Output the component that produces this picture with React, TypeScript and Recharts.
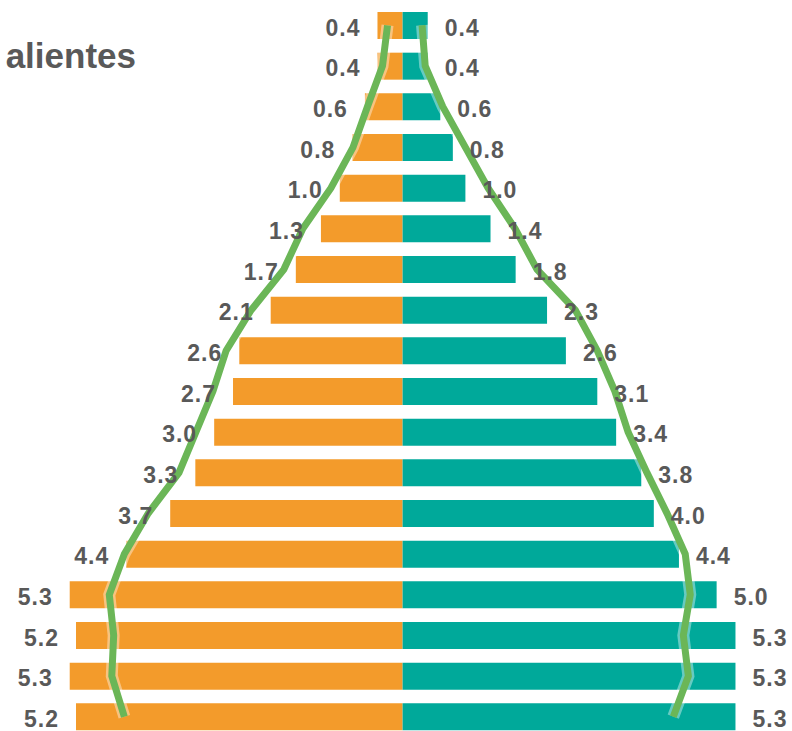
import React from "react";
import { ComposedChart, Bar, Line, XAxis, YAxis, LabelList } from "recharts";

// grupos de edad, de arriba (mayores) a abajo (menores)
const ages = ["85+", "80-84", "75-79", "70-74", "65-69", "60-64", "55-59", "50-54", "45-49", "40-44", "35-39", "30-34", "25-29", "20-24", "15-19", "10-14", "5-9", "0-4"];
const hombres = [0.4, 0.4, 0.6, 0.8, 1.0, 1.3, 1.7, 2.1, 2.6, 2.7, 3.0, 3.3, 3.7, 4.4, 5.3, 5.2, 5.3, 5.2];
const mujeres = [0.4, 0.4, 0.6, 0.8, 1.0, 1.4, 1.8, 2.3, 2.6, 3.1, 3.4, 3.8, 4.0, 4.4, 5.0, 5.3, 5.3, 5.3];
// perfil de referencia (línea verde)
const refHombres = [0.24, 0.32, 0.56, 0.79, 1.14, 1.59, 1.89, 2.41, 2.81, 3.02, 3.29, 3.56, 4.05, 4.43, 4.67, 4.6, 4.63, 4.43];
const refMujeres = [0.31, 0.36, 0.64, 1.0, 1.36, 1.79, 2.14, 2.75, 3.1, 3.38, 3.59, 3.89, 4.21, 4.5, 4.58, 4.47, 4.55, 4.31];

const ORANGE = "#F39B2B";
const TEAL = "#00A99A";
const GREEN = "#6BB657";
const GRAY = "#595959";
const FONT = "'Liberation Sans', Arial, sans-serif";

const data = ages.map((a, i) => ({
  age: a,
  h: -hombres[i],
  m: mujeres[i],
  rh: -refHombres[i],
  rm: refMujeres[i],
  hLabel: hombres[i].toFixed(1),
  mLabel: mujeres[i].toFixed(1),
}));

const makeLabel = (side: "left" | "right") => (props: any) => {
  const vb = props.viewBox || {};
  const x = Number(props.x ?? vb.x);
  const y = Number(props.y ?? vb.y);
  const w = Number(props.width ?? vb.width);
  const h = Number(props.height ?? vb.height);
  const lo = Math.min(x, x + w);
  const hi = Math.max(x, x + w);
  const cy = y + h / 2 + 2;
  return (
    <text
      x={side === "left" ? lo - 17 : hi + 17}
      y={cy}
      textAnchor={side === "left" ? "end" : "start"}
      dominantBaseline="central"
      fontFamily={FONT}
      fontWeight="bold"
      fontSize={23}
      letterSpacing={1}
      fill={GRAY}
    >
      {props.value}
    </text>
  );
};

export default function App() {
  return (
    <div style={{ position: "absolute", left: 0, top: 0, width: 792, height: 731, overflow: "hidden", background: "#fff" }}>
      <ComposedChart
        width={792}
        height={740}
        data={data}
        layout="vertical"
        stackOffset="sign"
        barCategoryGap={0}
        margin={{ top: 5, right: 0, bottom: 3, left: 0 }}
      >
        <XAxis type="number" domain={[-6.41, 6.2]} allowDataOverflow hide />
        <YAxis type="category" dataKey="age" hide />
        <Bar dataKey="h" stackId="p" fill={ORANGE} barSize={27} isAnimationActive={false}>
          <LabelList dataKey="hLabel" content={makeLabel("left")} />
        </Bar>
        <Bar dataKey="m" stackId="p" fill={TEAL} barSize={27} isAnimationActive={false}>
          <LabelList dataKey="mLabel" content={makeLabel("right")} />
        </Bar>
        <Line dataKey="rh" type="linear" stroke="#fff" strokeOpacity={0.4} strokeWidth={12} dot={false} activeDot={false} isAnimationActive={false} />
        <Line dataKey="rm" type="linear" stroke="#fff" strokeOpacity={0.4} strokeWidth={12} dot={false} activeDot={false} isAnimationActive={false} />
        <Line dataKey="rh" type="linear" stroke={GREEN} strokeWidth={7} dot={false} activeDot={false} isAnimationActive={false} />
        <Line dataKey="rm" type="linear" stroke={GREEN} strokeWidth={7} dot={false} activeDot={false} isAnimationActive={false} />
      </ComposedChart>
      <svg width={200} height={100} style={{ position: "absolute", left: 0, top: 0 }}>
        <text x={136} y={68} textAnchor="end" fontFamily={FONT} fontWeight="bold" fontSize={35} fill={GRAY}>
          alientes
        </text>
      </svg>
    </div>
  );
}
